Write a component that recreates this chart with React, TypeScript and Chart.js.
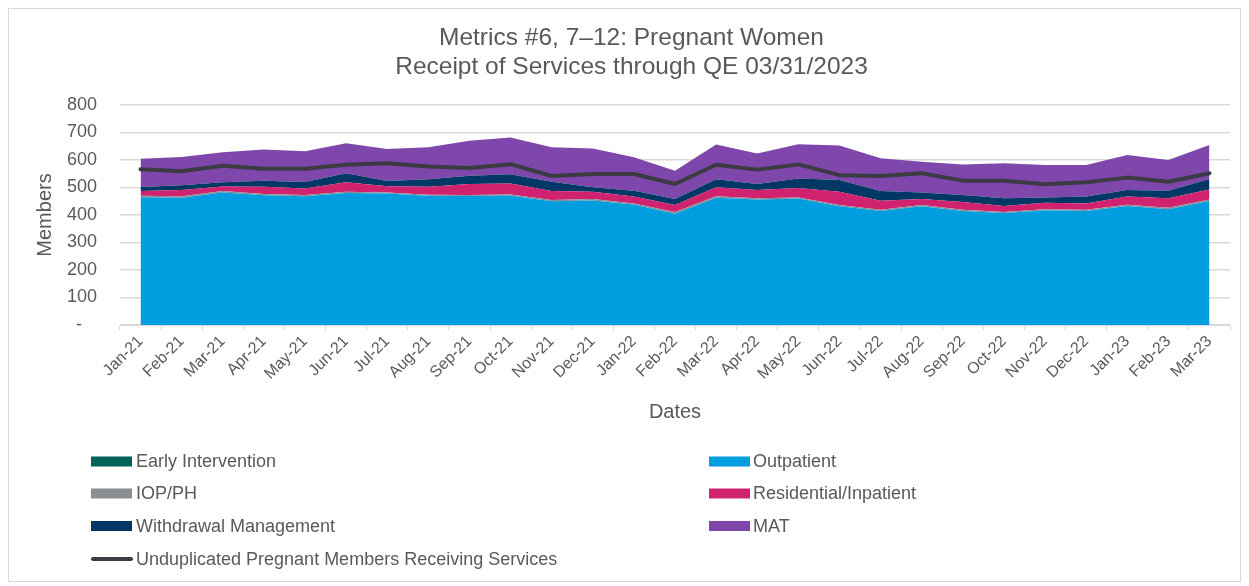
import React, { useEffect, useRef } from 'react';
import { Chart, registerables } from 'chart.js';

Chart.register(...registerables);

const FONT = '"Liberation Sans", Arial, sans-serif';
const TEXT = '#595959';

const months = [
  'Jan-21', 'Feb-21', 'Mar-21', 'Apr-21', 'May-21', 'Jun-21', 'Jul-21', 'Aug-21', 'Sep-21',
  'Oct-21', 'Nov-21', 'Dec-21', 'Jan-22', 'Feb-22', 'Mar-22', 'Apr-22', 'May-22', 'Jun-22',
  'Jul-22', 'Aug-22', 'Sep-22', 'Oct-22', 'Nov-22', 'Dec-22', 'Jan-23', 'Feb-23', 'Mar-23',
];

const earlyIntervention = [0, 0, 0, 0, 0, 0, 0, 0, 0, 0, 0, 0, 0, 0, 0, 0, 0, 0, 0, 0, 0, 0, 0, 0, 0, 0, 0];
const outpatient = [465, 463, 482, 472, 468, 480, 478, 470, 469, 471, 450, 453, 438, 405, 463, 456, 460, 432, 415, 432, 415, 407, 417, 415, 433, 421, 451];
const iopPh = [5, 5, 5, 4, 5, 5, 4, 4, 4, 4, 5, 5, 4, 6, 5, 5, 4, 4, 4, 4, 4, 4, 4, 4, 4, 5, 5];
const residential = [17, 23, 17, 27, 23, 34, 23, 29, 40, 40, 32, 27, 25, 25, 33, 30, 34, 49, 33, 22, 28, 22, 24, 23, 30, 35, 37];
const withdrawal = [15, 17, 15, 22, 24, 33, 19, 27, 30, 33, 34, 16, 21, 22, 29, 22, 35, 42, 35, 24, 26, 28, 19, 25, 24, 27, 38];
const mat = [103, 103, 109, 113, 112, 109, 116, 116, 127, 134, 125, 141, 122, 103, 126, 111, 124, 126, 119, 112, 111, 127, 118, 115, 127, 112, 124];
const unduplicated = [566, 559, 579, 568, 568, 583, 588, 576, 571, 585, 542, 549, 549, 513, 583, 565, 584, 545, 542, 552, 525, 525, 512, 519, 536, 521, 552];

const yTicks = [0, 100, 200, 300, 400, 500, 600, 700, 800];

const legendPlugin = {
  id: 'gridLegend',
  afterDraw(chart: any) {
    const ctx = chart.ctx as CanvasRenderingContext2D;
    const ds = chart.data.datasets;
    const colX = [[82, 127], [700, 744]];
    const rowY = [452.5, 484.5, 517, 550];
    ctx.save();
    ctx.font = `18px ${FONT}`;
    ctx.textBaseline = 'middle';
    ctx.textAlign = 'left';
    ds.forEach((d: any, i: number) => {
      const isLine = d.type === 'line' && d.fill === false;
      const col = isLine ? 0 : i % 2;
      const row = isLine ? 3 : Math.floor(i / 2);
      const [sx, tx] = colX[col];
      const y = rowY[row];
      if (isLine) {
        ctx.strokeStyle = d.borderColor;
        ctx.lineWidth = 4;
        ctx.lineCap = 'round';
        ctx.beginPath();
        ctx.moveTo(sx + 2, y);
        ctx.lineTo(sx + 40, y);
        ctx.stroke();
      } else {
        ctx.fillStyle = d.backgroundColor;
        ctx.fillRect(sx, y - 5, 41, 10);
      }
      ctx.fillStyle = TEXT;
      ctx.fillText(d.label, tx, y + 1);
    });
    ctx.restore();
  },
};

function area(label: string, data: number[], color: string, first = false) {
  return {
    type: 'line' as const,
    label,
    data,
    backgroundColor: color,
    borderColor: color,
    borderWidth: 0,
    pointRadius: 0,
    fill: first ? 'origin' : '-1',
    stack: 'services',
    order: 1,
    tension: 0,
  };
}

export default function App() {
  const ref = useRef<HTMLCanvasElement>(null);

  useEffect(() => {
    const chart = new Chart(ref.current!, {
      type: 'line',
      data: {
        labels: months,
        datasets: [
          area('Early Intervention', earlyIntervention, '#00625a', true),
          area('Outpatient', outpatient, '#009ddf'),
          area('IOP/PH', iopPh, '#8a8d92'),
          area('Residential/Inpatient', residential, '#d0226f'),
          area('Withdrawal Management', withdrawal, '#003865'),
          area('MAT', mat, '#7f47ab'),
          {
            type: 'line' as const,
            label: 'Unduplicated Pregnant Members Receiving Services',
            data: unduplicated,
            borderColor: '#3b3c43',
            backgroundColor: '#3b3c43',
            borderWidth: 4,
            pointRadius: 0,
            fill: false,
            stack: 'total',
            order: 0,
            tension: 0,
            borderCapStyle: 'round',
            borderJoinStyle: 'round',
          } as any,
        ],
      },
      options: {
        responsive: false,
        animation: false,
        devicePixelRatio: 1,
        layout: { padding: { left: 24, right: 10, top: 0, bottom: 136 } },
        plugins: {
          legend: { display: false },
          tooltip: { enabled: false },
          title: {
            display: true,
            text: ['Metrics #6, 7\u201312: Pregnant Women', 'Receipt of Services through QE 03/31/2023'],
            color: TEXT,
            font: { family: FONT, size: 24.5, weight: 'normal', lineHeight: 1.18 },
            padding: { top: 14.5, bottom: 23.7 },
          },
        },
        scales: {
          x: {
            offset: true,
            grid: {
              offset: true,
              drawOnChartArea: false,
              drawTicks: true,
              tickLength: 5,
              color: '#d9d9d9',
            },
            border: { display: true, color: '#d9d9d9', width: 1 },
            ticks: {
              autoSkip: false,
              minRotation: 45,
              maxRotation: 45,
              padding: 2,
              color: TEXT,
              font: { family: FONT, size: 16 },
            },
            title: {
              display: true,
              text: 'Dates',
              color: TEXT,
              font: { family: FONT, size: 20, lineHeight: 1.2 },
              padding: { top: 0, bottom: 21 },
            },
            afterFit: (s: any) => { s.height = 120; },
          },
          y: {
            stacked: true,
            min: 0,
            max: 800,
            grid: { color: '#d9d9d9', lineWidth: 1.5, drawTicks: false },
            border: { display: false },
            afterBuildTicks: (s: any) => { s.ticks = yTicks.map((v) => ({ value: v })); },
            ticks: {
              padding: 23,
              color: TEXT,
              font: { family: FONT, size: 18 },
              callback: (v: any) => (Number(v) === 0 ? '-   ' : String(v)),
            },
            title: {
              display: true,
              text: 'Members',
              color: TEXT,
              font: { family: FONT, size: 20, lineHeight: 1.2 },
              padding: { top: 0, bottom: 0 },
            },
            afterFit: (s: any) => { s.width = 87; },
          },
        },
      },
      plugins: [legendPlugin],
    });
    return () => chart.destroy();
  }, []);

  return (
    <div
      style={{
        width: 1233,
        height: 574,
        border: '1px solid #d9d9d9',
        boxSizing: 'border-box',
        background: '#ffffff',
      }}
    >
      <canvas ref={ref} width={1231} height={572} style={{ display: 'block' }} />
    </div>
  );
}
